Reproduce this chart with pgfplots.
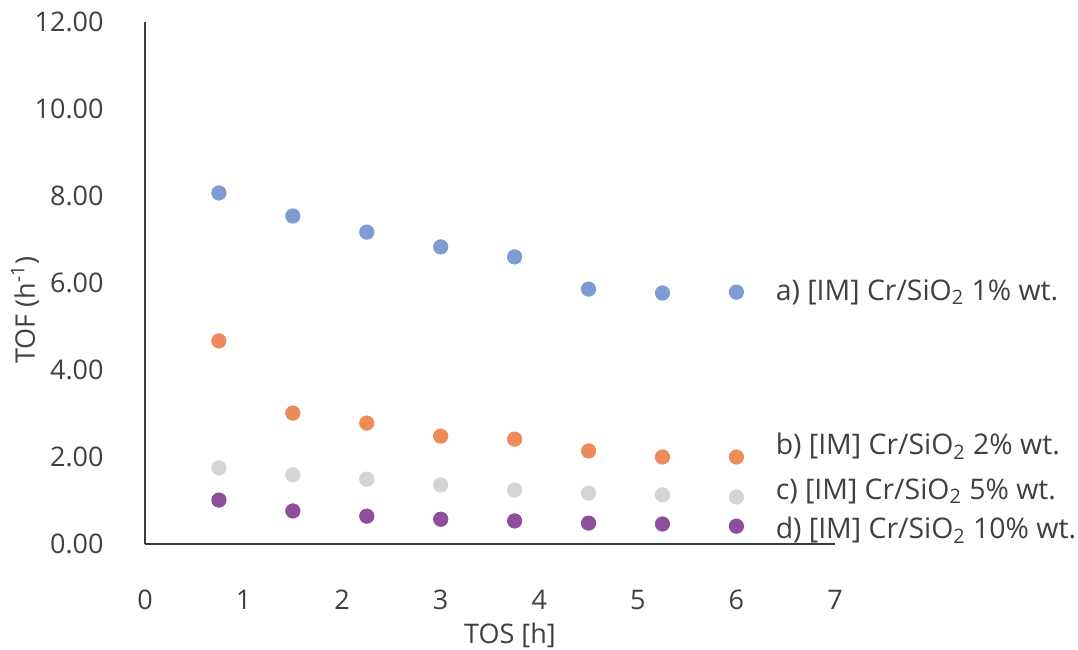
\documentclass[border=0pt]{standalone}
\usepackage{fontspec}
\setmainfont{Open Sans}
\usepackage{pgfplots}
\pgfplotsset{compat=1.18}
\definecolor{sA}{RGB}{125,155,212}
\definecolor{sB}{RGB}{236,140,90}
\definecolor{sC}{RGB}{212,212,212}
\definecolor{sD}{RGB}{142,78,156}
\definecolor{txt}{RGB}{64,64,64}
\definecolor{axc}{RGB}{50,62,58}
\begin{document}
\fontsize{13.5}{16}\selectfont
\begin{tikzpicture}
\begin{axis}[
  at={(0,0)}, anchor=south west,
  scale only axis, width=345pt, height=261pt,
  xmin=0, xmax=7, ymin=0, ymax=12,
  axis lines=left,
  axis line style={axc, line width=1pt, -},
  xtick={0,1,...,7}, ytick={0,2,...,12},
  major tick length=0pt,
  tick label style={txt, font=\fontsize{13.5}{16}\selectfont},
  /pgf/number format/assume math mode=true,
  yticklabel style={/pgf/number format/.cd, fixed, fixed zerofill, precision=2, /tikz/.cd, xshift=-16pt},
  xticklabel style={anchor=center, yshift=-28pt},
  clip=false,
]
\addplot[only marks, mark=*, mark size=3.6pt, sA, mark options={draw=sA, fill=sA}] coordinates {
 (0.75,8.07) (1.5,7.54) (2.25,7.17) (3,6.83) (3.75,6.60) (4.5,5.86) (5.25,5.77) (6,5.79)};
\addplot[only marks, mark=*, mark size=3.6pt, sB, mark options={draw=sB, fill=sB}] coordinates {
 (0.75,4.67) (1.5,3.01) (2.25,2.78) (3,2.48) (3.75,2.41) (4.5,2.14) (5.25,2.00) (6,2.00)};
\addplot[only marks, mark=*, mark size=3.6pt, sC, mark options={draw=sC, fill=sC}] coordinates {
 (0.75,1.75) (1.5,1.59) (2.25,1.49) (3,1.36) (3.75,1.24) (4.5,1.17) (5.25,1.13) (6,1.08)};
\addplot[only marks, mark=*, mark size=3.6pt, sD, mark options={draw=sD, fill=sD}] coordinates {
 (0.75,1.01) (1.5,0.76) (2.25,0.64) (3,0.57) (3.75,0.53) (4.5,0.48) (5.25,0.46) (6,0.41)};
\begin{scope}[every node/.style={anchor=west, txt, xshift=15pt, font=\fontsize{14.2}{16}\selectfont}]
\node at (axis cs:6,5.79) {a) [IM] Cr/SiO\textsubscript{2} 1\% wt.};
\node at (axis cs:6,2.25) {b) [IM] Cr/SiO\textsubscript{2} 2\% wt.};
\node at (axis cs:6,1.22) {c) [IM] Cr/SiO\textsubscript{2} 5\% wt.};
\node at (axis cs:6,0.32) {d) [IM] Cr/SiO\textsubscript{2} 10\% wt.};
\end{scope}
\node[txt, anchor=center] at ([yshift=-45.5pt]rel axis cs:0.529,0) {TOS [h]};
\node[txt, anchor=center, rotate=90] at ([xshift=-60pt]rel axis cs:0,0.448) {TOF (h\textsuperscript{-1})};
\end{axis}
\pgfresetboundingbox
\path[use as bounding box] (-72.5pt,-52.5pt) rectangle (466.5pt,272pt);
\end{tikzpicture}
\end{document}
